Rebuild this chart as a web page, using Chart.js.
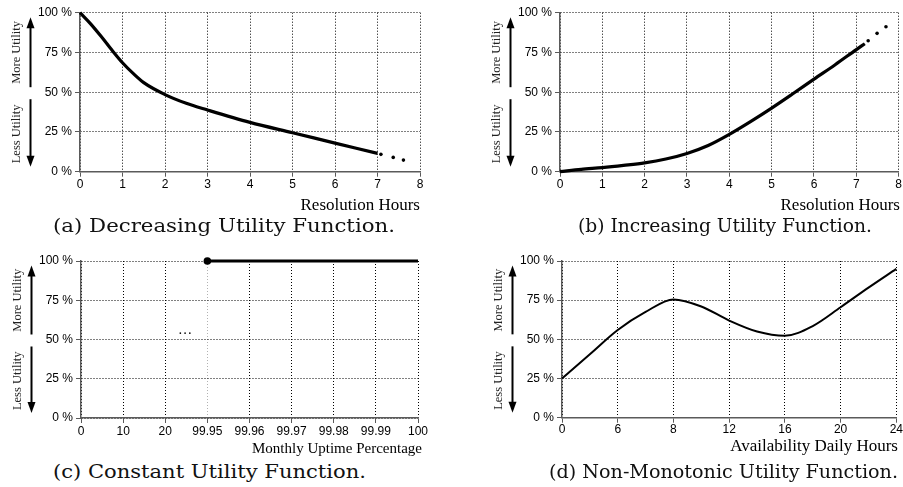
<!DOCTYPE html>
<html>
<head>
<meta charset="utf-8">
<script src="https://cdn.jsdelivr.net/npm/chart.js@4/dist/chart.umd.min.js"></script>
<style>
  html, body { margin: 0; padding: 0; background: #fff; }
  #wrap { position: relative; width: 903px; height: 487px; overflow: hidden; background: #fff; }
  canvas { position: absolute; }
  .ttl { position: absolute; font-family: 'Liberation Serif', serif; color: #000; white-space: nowrap; text-align: right; line-height: 20px; }
  .cap { position: absolute; font-family: 'DejaVu Serif', serif; font-size: 18px; color: #111; white-space: nowrap; line-height: 24px; transform-origin: 0 50%; }
</style>
</head>
<body>
<div id="wrap">
  <canvas id="ca" width="450" height="200" style="left:0;top:0;width:450px;height:200px"></canvas>
  <canvas id="cb" width="453" height="200" style="left:450px;top:0;width:453px;height:200px"></canvas>
  <canvas id="cc" width="450" height="200" style="left:0;top:245px;width:450px;height:200px"></canvas>
  <canvas id="cd" width="453" height="200" style="left:450px;top:245px;width:453px;height:200px"></canvas>

  <div class="ttl" style="right:483px;top:195px;font-size:17px">Resolution Hours</div>
  <div class="ttl" style="right:3px;top:195px;font-size:17px">Resolution Hours</div>
  <div class="ttl" style="right:481px;top:438px;font-size:15px">Monthly Uptime Percentage</div>
  <div class="ttl" style="right:5px;top:436px;font-size:17px">Availability Daily Hours</div>

  <div class="cap" data-l="53" data-r="395" style="left:53px;top:214px">(a) Decreasing Utility Function.</div>
  <div class="cap" data-l="578" data-r="872" style="left:578px;top:214px">(b) Increasing Utility Function.</div>
  <div class="cap" data-l="53" data-r="366" style="left:53px;top:460px">(c) Constant Utility Function.</div>
  <div class="cap" data-l="549" data-r="898" style="left:549px;top:460px">(d) Non-Monotonic Utility Function.</div>
</div>
<script>
// fit each caption horizontally into its span
document.querySelectorAll('.cap').forEach(el => {
  const w = el.getBoundingClientRect().width;
  const target = (+el.dataset.r) - (+el.dataset.l);
  el.style.transform = 'scaleX(' + (target / w).toFixed(4) + ')';
});

// ---------------- DATA ----------------
const yTicks = [0, 25, 50, 75, 100];

// (a) Decreasing utility
const aHours   = [0, 0.25, 0.5, 0.75, 1, 1.25, 1.5, 2, 2.5, 3, 4, 5, 6, 7];
const aUtility = [100, 93, 85, 76.5, 68.5, 61.8, 56, 48.5, 43, 38.8, 31, 24.5, 18, 11.5];
const aDotsHours   = [7.08, 7.37, 7.61];
const aDotsUtility = [10.9, 9.0, 7.3];

// (b) Increasing utility
const bHours   = [0, 0.5, 1, 1.5, 2, 2.5, 3, 3.5, 4, 4.5, 5, 5.5, 6, 6.5, 7, 7.2];
const bUtility = [0, 1.5, 2.6, 4, 5.6, 8, 11.5, 16.5, 23.5, 31.5, 40, 49, 58.2, 67.3, 76.8, 80.5];
const bDotsHours   = [7.28, 7.49, 7.70];
const bDotsUtility = [82.4, 87, 91.2];

// (c) Constant utility
const cLabels  = ['0', '10', '20', '99.95', '99.96', '99.97', '99.98', '99.99', '100'];
const cUtility = [null, null, null, 100, 100, 100, 100, 100, 100];

// (d) Non-monotonic utility (positions on the evenly spaced tick axis)
const dTickLabels = ['0', '6', '8', '12', '16', '20', '24'];
const dPos     = [0, 0.5, 1, 1.5, 2, 2.5, 3, 3.5, 4, 4.5, 5, 5.5, 6];
const dUtility = [25, 40.5, 56, 67.5, 75.5, 71, 62, 55, 52.3, 58.5, 70.5, 83, 95];

// ---------------- HELPERS ----------------
const tickFont = { family: "'Liberation Sans', Arial, sans-serif", size: 12 };
const gridColor = '#000';
const axisColor = '#5a5a5a';

const sideLabels = {
  id: 'sideLabels',
  afterDraw(chart) {
    const ca = chart.chartArea;
    const ctx = chart.ctx;
    const ax = Math.round(ca.left - 50) + 0.5;
    const tx = ca.left - 63;
    const mid = (ca.top + ca.bottom) / 2;
    ctx.save();
    ctx.strokeStyle = '#000';
    ctx.fillStyle = '#000';
    ctx.lineWidth = 2;
    const upTip = ca.top + 4.5, upBase = mid - 5;
    ctx.beginPath(); ctx.moveTo(ax, upBase); ctx.lineTo(ax, upTip + 8); ctx.stroke();
    ctx.beginPath(); ctx.moveTo(ax, upTip); ctx.lineTo(ax - 4, upTip + 11); ctx.lineTo(ax + 4, upTip + 11); ctx.closePath(); ctx.fill();
    const dnStart = mid + 7, dnTip = ca.bottom - 5;
    ctx.beginPath(); ctx.moveTo(ax, dnStart); ctx.lineTo(ax, dnTip - 8); ctx.stroke();
    ctx.beginPath(); ctx.moveTo(ax, dnTip); ctx.lineTo(ax - 4, dnTip - 11); ctx.lineTo(ax + 4, dnTip - 11); ctx.closePath(); ctx.fill();
    ctx.font = "12.5px 'Liberation Serif', serif";
    ctx.textAlign = 'center';
    ctx.textBaseline = 'middle';
    ctx.fillStyle = '#222';
    ctx.translate(tx, (ca.top + mid) / 2);
    ctx.rotate(-Math.PI / 2);
    ctx.fillText('More Utility', 0, 0);
    ctx.rotate(Math.PI / 2);
    ctx.translate(0, (mid + ca.bottom) / 2 + 2 - (ca.top + mid) / 2);
    ctx.rotate(-Math.PI / 2);
    ctx.fillText('Less Utility', 0, 0);
    ctx.restore();
  }
};

function yScale(leftWidth) {
  return {
    min: 0, max: 100,
    ticks: { stepSize: 25, font: tickFont, color: '#000', padding: 3,
             callback: v => v + ' %' },
    grid: { color: gridColor, lineWidth: 1, tickLength: 5, tickColor: axisColor, tickBorderDash: [] },
    border: { display: true, color: axisColor, width: 1.5, dash: [1, 2] },
    afterFit(s) { s.width = leftWidth; }
  };
}
function xGrid(extra) {
  return Object.assign({ color: gridColor, lineWidth: 1, tickLength: 5, tickColor: axisColor, tickBorderDash: [] }, extra || {});
}

function baseOptions(box, W, H) {
  return {
    responsive: false,
    animation: false,
    devicePixelRatio: 1,
    layout: { padding: { left: 0, top: box.t, right: W - box.r, bottom: 0 } },
    plugins: { legend: { display: false }, tooltip: { enabled: false } },
    elements: { point: { radius: 0 } }
  };
}

// ---------------- (a) ----------------
(function () {
  const box = { l: 80, t: 12.7, r: 420, b: 171.7 }, W = 450, H = 200;
  const opts = baseOptions(box, W, H);
  opts.scales = {
    x: { type: 'linear', min: 0, max: 8,
         ticks: { stepSize: 1, font: tickFont, color: '#000', padding: 1, maxRotation: 0 },
         grid: xGrid(),
         border: { display: true, color: axisColor, width: 1.5, dash: [1, 2] },
         afterFit(s) { s.height = H - box.b; } },
    y: yScale(box.l)
  };
  new Chart(document.getElementById('ca'), {
    type: 'line',
    data: { datasets: [
      { data: aHours.map((h, i) => ({ x: h, y: aUtility[i] })), borderColor: '#000', borderWidth: 3.2,
        cubicInterpolationMode: 'monotone', pointRadius: 0, fill: false, clip: false },
      { data: aDotsHours.map((h, i) => ({ x: h, y: aDotsUtility[i] })), showLine: false, clip: false,
        pointRadius: 1.8, pointBackgroundColor: '#000', pointBorderWidth: 0 }
    ] },
    options: opts,
    plugins: [sideLabels]
  });
})();

// ---------------- (b) ----------------
(function () {
  const box = { l: 110, t: 12.7, r: 450, b: 171.7 }, W = 453, H = 200;
  const opts = baseOptions(box, W, H);
  opts.scales = {
    x: { type: 'linear', min: 0, max: 8,
         ticks: { stepSize: 1, font: tickFont, color: '#000', padding: 1, maxRotation: 0 },
         grid: xGrid(),
         border: { display: true, color: axisColor, width: 1.5, dash: [1, 2] },
         afterFit(s) { s.height = H - box.b; } },
    y: yScale(box.l)
  };
  new Chart(document.getElementById('cb'), {
    type: 'line',
    data: { datasets: [
      { data: bHours.map((h, i) => ({ x: h, y: bUtility[i] })), borderColor: '#000', borderWidth: 3.2,
        cubicInterpolationMode: 'monotone', pointRadius: 0, fill: false, clip: false },
      { data: bDotsHours.map((h, i) => ({ x: h, y: bDotsUtility[i] })), showLine: false, clip: false,
        pointRadius: 1.8, pointBackgroundColor: '#000', pointBorderWidth: 0 }
    ] },
    options: opts,
    plugins: [sideLabels]
  });
})();

// ---------------- (c) ----------------
(function () {
  const box = { l: 81, t: 16, r: 418, b: 173 }, W = 450, H = 200;
  const opts = baseOptions(box, W, H);
  opts.scales = {
    x: { type: 'category', offset: false,
         ticks: { font: tickFont, color: '#000', padding: 1, maxRotation: 0, autoSkip: false },
         grid: xGrid({ offset: false, color: ctx => ctx.index === 3 ? 'rgba(0,0,0,0.3)' : gridColor }),
         border: { display: true, color: axisColor, width: 1.5, dash: [1, 2] },
         afterFit(s) { s.height = H - box.b; } },
    y: yScale(box.l)
  };
  const dotsText = {
    id: 'dotsText',
    afterDraw(chart) {
      const ctx = chart.ctx;
      const x = chart.scales.x.getPixelForValue(2.47);
      const y = chart.scales.y.getPixelForValue(50);
      ctx.save();
      ctx.font = "14px 'Liberation Serif', serif";
      ctx.fillStyle = '#000';
      ctx.textAlign = 'center';
      ctx.textBaseline = 'bottom';
      ctx.fillText('\u00B7\u00B7\u00B7', x, y + 2);
      ctx.restore();
    }
  };
  new Chart(document.getElementById('cc'), {
    type: 'line',
    data: { labels: cLabels, datasets: [
      { data: cUtility, borderColor: '#000', borderWidth: 3.2, fill: false, spanGaps: false, clip: false,
        pointRadius: cUtility.map((v, i) => (v !== null && (i === 0 || cUtility[i - 1] === null)) ? 3.8 : 0),
        pointBackgroundColor: '#000', pointBorderWidth: 0 }
    ] },
    options: opts,
    plugins: [sideLabels, dotsText]
  });
})();

// ---------------- (d) ----------------
(function () {
  const box = { l: 112, t: 16, r: 447, b: 172.7 }, W = 453, H = 200;
  const opts = baseOptions(box, W, H);
  opts.scales = {
    x: { type: 'linear', min: 0, max: dTickLabels.length - 1,
         ticks: { stepSize: 1, font: tickFont, color: '#000', padding: 0, maxRotation: 0,
                  callback: v => dTickLabels[v] },
         grid: xGrid(),
         border: { display: true, color: axisColor, width: 1.5, dash: [1, 2] },
         afterFit(s) { s.height = H - box.b; } },
    y: yScale(box.l)
  };
  new Chart(document.getElementById('cd'), {
    type: 'line',
    data: { datasets: [
      { data: dPos.map((p, i) => ({ x: p, y: dUtility[i] })), borderColor: '#000', borderWidth: 2,
        cubicInterpolationMode: 'monotone', pointRadius: 0, fill: false, clip: false }
    ] },
    options: opts,
    plugins: [sideLabels]
  });
})();
</script>
</body>
</html>
